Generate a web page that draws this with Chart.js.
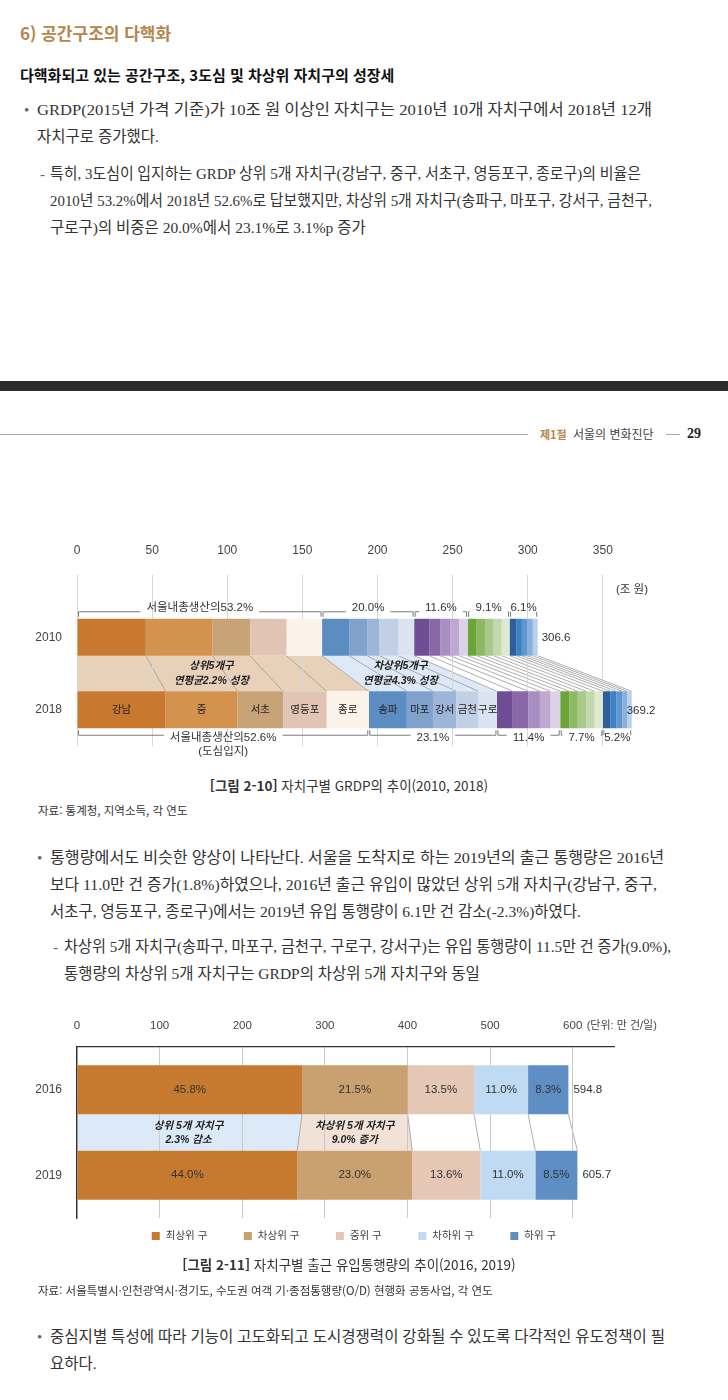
<!DOCTYPE html>
<html lang="ko">
<head>
<meta charset="utf-8">
<script src="https://cdn.jsdelivr.net/npm/chart.js@4.4.1/dist/chart.umd.min.js"></script>
<style>
  body { margin: 0; background: #fff; width: 728px; height: 1400px; position: relative; overflow: hidden;
         font-family: "Liberation Serif", "Noto Sans CJK KR", serif; color: #333; }
  .ln { position: absolute; height: 20px; line-height: 20px; font-size: 15.5px; white-space: nowrap; }
  .sans { font-family: "Noto Sans CJK KR", sans-serif; }
  .dot { position: absolute; height: 20px; line-height: 20px; font-size: 15px; color: #666; }
  .cap { position: absolute; width: 698px; left: 0; text-align: center; font-size: 13.5px; height: 20px; line-height: 20px; }
  .src { position: absolute; font-size: 11.5px; height: 20px; line-height: 20px; }
  canvas { position: absolute; left: 0; }
</style>
</head>
<body>

<div class="sans" style="position:absolute;left:20px;top:21px;font-size:17px;font-weight:bold;color:#b5864c;line-height:24px">6) 공간구조의 다핵화</div>
<div class="sans" style="position:absolute;left:20px;top:64px;font-size:15px;font-weight:bold;color:#111;line-height:22px">다핵화되고 있는 공간구조, 3도심 및 차상위 자치구의 성장세</div>

<div class="dot" style="top:100px;left:24px">•</div>
<div class="ln" data-w="615" style="top:100px;left:37px">GRDP(2015년 가격 기준)가 10조 원 이상인 자치구는 2010년 10개 자치구에서 2018년 12개</div>
<div class="ln" style="top:127px;left:37px">자치구로 증가했다.</div>
<div class="dot" style="top:164px;left:40px">-</div>
<div class="ln" data-w="591" style="top:164px;left:50px">특히, 3도심이 입지하는 GRDP 상위 5개 자치구(강남구, 중구, 서초구, 영등포구, 종로구)의 비율은</div>
<div class="ln" data-w="602" style="top:191px;left:50px">2010년 53.2%에서 2018년 52.6%로 답보했지만, 차상위 5개 자치구(송파구, 마포구, 강서구, 금천구,</div>
<div class="ln" style="top:218px;left:50px">구로구)의 비중은 20.0%에서 23.1%로 3.1%p 증가</div>

<div style="position:absolute;left:0;top:381px;width:728px;height:10px;background:#2c2c2c"></div>

<div style="position:absolute;left:0;top:434px;width:528px;height:1px;background:#a8a8a8"></div>
<div class="sans" style="position:absolute;left:540px;top:426px;font-size:11px;line-height:16px;font-weight:bold;color:#b5864c">제1절</div>
<div class="sans" style="position:absolute;left:573px;top:426px;font-size:12px;line-height:16px;color:#444">서울의 변화진단</div>
<div style="position:absolute;left:666px;top:434px;width:14px;height:1px;background:#a8a8a8"></div>
<div style="position:absolute;left:687px;top:425px;font-size:14px;line-height:18px;font-weight:bold;color:#222">29</div>

<canvas id="gdp" width="728" height="240" style="top:530px"></canvas>

<div class="cap sans" style="top:775px"><b>[그림 2-10]</b> 자치구별 GRDP의 추이(2010, 2018)</div>
<div class="src sans" style="top:800px;left:38px">자료: 통계청, 지역소득, 각 연도</div>

<div class="dot" style="top:848px;left:37px">•</div>
<div class="ln" data-w="614" style="top:848px;left:50px">통행량에서도 비슷한 양상이 나타난다. 서울을 도착지로 하는 2019년의 출근 통행량은 2016년</div>
<div class="ln" data-w="607" style="top:875px;left:50px">보다 11.0만 건 증가(1.8%)하였으나, 2016년 출근 유입이 많았던 상위 5개 자치구(강남구, 중구,</div>
<div class="ln" style="top:902px;left:50px">서초구, 영등포구, 종로구)에서는 2019년 유입 통행량이 6.1만 건 감소(-2.3%)하였다.</div>
<div class="dot" style="top:937px;left:53px">-</div>
<div class="ln" data-w="607" style="top:937px;left:64px">차상위 5개 자치구(송파구, 마포구, 금천구, 구로구, 강서구)는 유입 통행량이 11.5만 건 증가(9.0%),</div>
<div class="ln" style="top:964px;left:64px">통행량의 차상위 5개 자치구는 GRDP의 차상위 5개 자치구와 동일</div>

<canvas id="flow" width="728" height="260" style="top:1000px"></canvas>

<div class="cap sans" style="top:1254px"><b>[그림 2-11]</b> 자치구별 출근 유입통행량의 추이(2016, 2019)</div>
<div class="src sans" style="top:1280px;left:38px">자료: 서울특별시·인천광역시·경기도, 수도권 여객 기·종점통행량(O/D) 현행화 공동사업, 각 연도</div>

<div class="dot" style="top:1327px;left:37px">•</div>
<div class="ln" data-w="615" style="top:1327px;left:50px">중심지별 특성에 따라 기능이 고도화되고 도시경쟁력이 강화될 수 있도록 다각적인 유도정책이 필</div>
<div class="ln" style="top:1354px;left:50px">요하다.</div>

<script>
const gdpYears = ['2010', '2018'];
const gdpTicks = [0, 50, 100, 150, 200, 250, 300, 350];
const gdpNames = ['강남', '중', '서초', '영등포', '종로', '송파', '마포', '강서', '금천', '구로'];
const gdp2010 = [45.8, 44.5, 24.8, 24.4, 23.6, 18.0, 12.0, 8.1, 12.6, 10.6,
  10.0, 7.3, 6.6, 6.0, 5.7, 6.0, 5.6, 5.6, 5.5, 5.2, 4.4, 3.8, 3.5, 3.8, 3.2];
const gdp2018 = [59.0, 47.8, 30.4, 28.9, 28.1, 25.3, 17.4, 15.5, 14.8, 12.3,
  10.5, 10.3, 7.8, 7.0, 6.5, 6.0, 5.7, 5.6, 5.6, 5.5, 4.9, 4.0, 4.0, 3.3, 3.0];
const gdpTotals = [306.6, 369.2];
const gdpShares2010 = ['서울내총생산의53.2%', '20.0%', '11.6%', '9.1%', '6.1%'];
const gdpShares2018 = ['서울내총생산의52.6%', '23.1%', '11.4%', '7.7%', '5.2%'];
const gdpGrowth = [['상위5개구', '연평균2.2% 성장'], ['차상위5개구', '연평균4.3% 성장']];

const flowYears = ['2016', '2019'];
const flowTicks = [0, 100, 200, 300, 400, 500, 600];
const flowTiers = ['최상위 구', '차상위 구', '중위 구', '차하위 구', '하위 구'];
const flow2016 = [272.4, 127.9, 80.3, 65.4, 48.8];
const flow2019 = [266.5, 139.3, 82.4, 66.6, 50.9];
const flowShares2016 = ['45.8%', '21.5%', '13.5%', '11.0%', '8.3%'];
const flowShares2019 = ['44.0%', '23.0%', '13.6%', '11.0%', '8.5%'];
const flowTotals = [594.8, 605.7];
const flowChange = [['상위 5개 자치구', '2.3% 감소'], ['차상위 5개 자치구', '9.0% 증가']];

const gdpColors = ['#c8792f', '#d4924f', '#c9a378', '#e2c4b4', '#fbf3ea',
  '#5b8dc3', '#7fa1cc', '#9db5d9', '#c2d0e6', '#dbe3f1',
  '#6f4d95', '#8a68a7', '#a98fc1', '#bfa9d1', '#ddd1e7',
  '#6ba437', '#8db964', '#a9c98a', '#c3d9ad', '#dde9d0',
  '#2f5f9b', '#3c80c5', '#5f96d0', '#8ab1dd', '#b8d0eb'];
const gdpBands = ['#e7d2b9', '#dde9f6', null, null, null];
const flowColors = ['#c67a2f', '#c9a06f', '#e5c7b6', '#bfdaf2', '#5f8ec4'];
const flowBands = ['#dceaf7', '#f1e1d6', null, null, null];

// full text lines are squeezed or stretched to the width they have on the page
document.querySelectorAll('.ln[data-w]').forEach(el => {
  const natural = el.getBoundingClientRect().width;
  el.style.transformOrigin = '0 50%';
  el.style.transform = 'scaleX(' + (el.dataset.w / natural) + ')';
});

const SANS = '"Liberation Sans", "Noto Sans CJK KR", sans-serif';
Chart.defaults.font.family = SANS;

const font = (size, style) => (style || '') + ' ' + size + 'px ' + SANS;

// ribbons between the two years: filled bands per group and a line per boundary
const drawRibbons = (chart, groupSize, bands) => {
  const ctx = chart.ctx;
  const bars = chart.data.datasets.map((d, i) => chart.getDatasetMeta(i).data);
  const top = bars[0][0], bot = bars[0][1];
  const y0 = top.y + top.height / 2, y1 = bot.y - bot.height / 2;
  ctx.save();
  for (let g = 0; g * groupSize < bars.length; g++) {
    if (!bands[g]) continue;
    const a = bars[g * groupSize], b = bars[g * groupSize + groupSize - 1];
    ctx.fillStyle = bands[g];
    ctx.beginPath();
    ctx.moveTo(a[0].base, y0);
    ctx.lineTo(b[0].x, y0);
    ctx.lineTo(b[1].x, y1);
    ctx.lineTo(a[1].base, y1);
    ctx.closePath();
    ctx.fill();
  }
  ctx.strokeStyle = '#9a9a9a';
  ctx.lineWidth = 0.8;
  ctx.beginPath();
  ctx.moveTo(bars[0][0].base, y0);
  ctx.lineTo(bars[0][1].base, y1);
  bars.forEach(b => { ctx.moveTo(b[0].x, y0); ctx.lineTo(b[1].x, y1); });
  ctx.stroke();
  ctx.restore();
};

const bracket = (ctx, x1, x2, y, dir, text, ty) => {
  const w = ctx.measureText(text).width;
  const cx = (x1 + x2) / 2;
  const l = cx - w / 2 - 6, r = cx + w / 2 + 6;
  ctx.beginPath();
  ctx.moveTo(x1, y + dir * 5); ctx.lineTo(x1, y);
  if (l > x1) ctx.lineTo(l, y);
  ctx.moveTo(x2, y + dir * 5); ctx.lineTo(x2, y);
  if (r < x2) ctx.lineTo(r, y);
  ctx.stroke();
  ctx.fillText(text, cx, ty);
};

const gdpDecor = {
  id: 'gdpDecor',
  beforeDraw(chart) { drawRibbons(chart, 5, gdpBands); },
  afterDatasetsDraw(chart) {
    const ctx = chart.ctx;
    const bars = chart.data.datasets.map((d, i) => chart.getDatasetMeta(i).data);
    const b10 = bars[0][0], b18 = bars[0][1];
    const t10 = b10.y - b10.height / 2, bt18 = b18.y + b18.height / 2;
    ctx.save();
    ctx.fillStyle = '#333';
    ctx.strokeStyle = '#7a7a7a';
    ctx.lineWidth = 1;
    ctx.textAlign = 'center';
    ctx.textBaseline = 'middle';
    ctx.font = font(11.5);
    for (let g = 0; g < 5; g++) {
      const a = bars[g * 5], b = bars[g * 5 + 4];
      bracket(ctx, a[0].base + 1, b[0].x - 1, t10 - 7, 1, gdpShares2010[g], t10 - 11);
      bracket(ctx, a[1].base + 1, b[1].x - 1, bt18 + 7, -1, gdpShares2018[g], bt18 + 10);
    }
    ctx.fillText('(도심입지)', (bars[0][1].base + bars[4][1].x) / 2, bt18 + 24);
    // district names inside 2018 bar
    ctx.font = font(10.5);
    ctx.fillStyle = '#222';
    gdpNames.forEach((n, i) => {
      const e = bars[i][1];
      ctx.fillText(n, (e.base + e.x) / 2, e.y);
    });
    // totals
    ctx.font = font(11.5);
    ctx.fillStyle = '#333';
    ctx.textAlign = 'left';
    const last = bars[bars.length - 1];
    ctx.fillText(String(gdpTotals[0]), last[0].x + 4, last[0].y + 1);
    ctx.fillText(String(gdpTotals[1]), last[1].x - 5, last[1].y + 1);
    ctx.textAlign = 'center';
    ctx.fillText('(조 원)', 632, 60);
    // growth notes in the bands
    ctx.font = font(10.5, 'italic bold');
    ctx.fillStyle = '#222';
    const y0 = b10.y + b10.height / 2;
    gdpGrowth.forEach((lines, g) => {
      const a = bars[g * 5], b = bars[g * 5 + 4];
      const cx = (a[0].base + b[0].x + a[1].base + b[1].x) / 4;
      ctx.fillText(lines[0], cx, y0 + 10);
      ctx.fillText(lines[1], cx, y0 + 25);
    });
    ctx.restore();
  }
};

new Chart(document.getElementById('gdp'), {
  type: 'bar',
  data: {
    labels: gdpYears,
    datasets: gdp2010.map((v, i) => ({
      label: gdpNames[i] || ('기타' + i),
      data: [gdp2010[i], gdp2018[i]],
      backgroundColor: gdpColors[i],
      borderWidth: 0,
      barPercentage: 0.51,
      categoryPercentage: 1
    }))
  },
  options: {
    indexAxis: 'y',
    responsive: false,
    animation: false,
    layout: { padding: { left: 0, right: 50, top: 0, bottom: 24 } },
    plugins: { legend: { display: false }, tooltip: { enabled: false } },
    scales: {
      x: {
        position: 'top', stacked: true, min: 0, max: 400,
        afterBuildTicks: s => { s.ticks = gdpTicks.map(v => ({ value: v })); },
        afterFit: s => { s.height = 71; },
        grid: { color: '#d6d6d6', tickColor: '#d6d6d6', tickLength: 26 },
        border: { display: false },
        ticks: { padding: 17, color: '#444', font: { size: 12 } }
      },
      y: {
        stacked: true,
        afterFit: s => { s.width = 77; },
        grid: { display: false },
        border: { display: false },
        ticks: { padding: 7, color: '#444', font: { size: 12 } }
      }
    }
  },
  plugins: [gdpDecor]
});

const flowDecor = {
  id: 'flowDecor',
  beforeDraw(chart) { drawRibbons(chart, 1, flowBands); },
  afterDatasetsDraw(chart) {
    const ctx = chart.ctx;
    const bars = chart.data.datasets.map((d, i) => chart.getDatasetMeta(i).data);
    ctx.save();
    ctx.textBaseline = 'middle';
    ctx.textAlign = 'center';
    ctx.font = font(11.5);
    ctx.fillStyle = '#333';
    bars.forEach((b, i) => {
      ctx.fillText(flowShares2016[i], (b[0].base + b[0].x) / 2, b[0].y);
      ctx.fillText(flowShares2019[i], (b[1].base + b[1].x) / 2, b[1].y);
    });
    ctx.textAlign = 'left';
    const last = bars[bars.length - 1];
    ctx.fillText(String(flowTotals[0]), last[0].x + 5, last[0].y);
    ctx.fillText(String(flowTotals[1]), last[1].x + 5, last[1].y);
    ctx.font = font(11);
    ctx.fillStyle = '#444';
    ctx.fillText('(단위: 만 건/일)', chart.scales.x.getPixelForValue(600) + 14, 26);
    // change notes in the ribbons
    ctx.textAlign = 'center';
    ctx.font = font(10.5, 'italic bold');
    ctx.fillStyle = '#222';
    const y0 = bars[0][0].y + bars[0][0].height / 2;
    flowChange.forEach((lines, i) => {
      const b = bars[i];
      const cx = (b[0].base + b[0].x + b[1].base + b[1].x) / 4;
      ctx.fillText(lines[0], cx, y0 + 12);
      ctx.fillText(lines[1], cx, y0 + 26);
    });
    // legend
    ctx.font = font(10.5);
    ctx.textAlign = 'left';
    ctx.fillStyle = '#444';
    const widths = flowTiers.map(t => ctx.measureText(t).width);
    const total = widths.reduce((s, w) => s + w + 14, 0) + 36.5 * (flowTiers.length - 1);
    let x = 354 - total / 2;
    flowTiers.forEach((t, i) => {
      ctx.fillStyle = flowColors[i];
      ctx.fillRect(x, 232, 8, 8);
      ctx.fillStyle = '#444';
      ctx.fillText(t, x + 14, 236.5);
      x += widths[i] + 14 + 36.5;
    });
    ctx.restore();
  }
};

new Chart(document.getElementById('flow'), {
  type: 'bar',
  data: {
    labels: flowYears,
    datasets: flowTiers.map((t, i) => ({
      label: t,
      data: [flow2016[i], flow2019[i]],
      backgroundColor: flowColors[i],
      borderWidth: 0,
      barPercentage: 0.573,
      categoryPercentage: 1
    }))
  },
  options: {
    indexAxis: 'y',
    responsive: false,
    animation: false,
    layout: { padding: { left: 0, right: 114, top: 0, bottom: 42 } },
    plugins: { legend: { display: false }, tooltip: { enabled: false } },
    scales: {
      x: {
        position: 'top', stacked: true, min: 0, max: 650,
        afterBuildTicks: s => { s.ticks = flowTicks.map(v => ({ value: v })); },
        afterFit: s => { s.height = 47; },
        grid: { color: '#c9c9c9', drawTicks: false },
        border: { display: true, color: '#333', width: 1.3 },
        ticks: { padding: 14, color: '#444', font: { size: 11.5 } }
      },
      y: {
        stacked: true,
        afterFit: s => { s.width = 77; },
        grid: { display: false },
        border: { display: true, color: '#333', width: 1.3 },
        ticks: { padding: 7, color: '#444', font: { size: 12 } }
      }
    }
  },
  plugins: [flowDecor]
});
</script>
</body>
</html>
